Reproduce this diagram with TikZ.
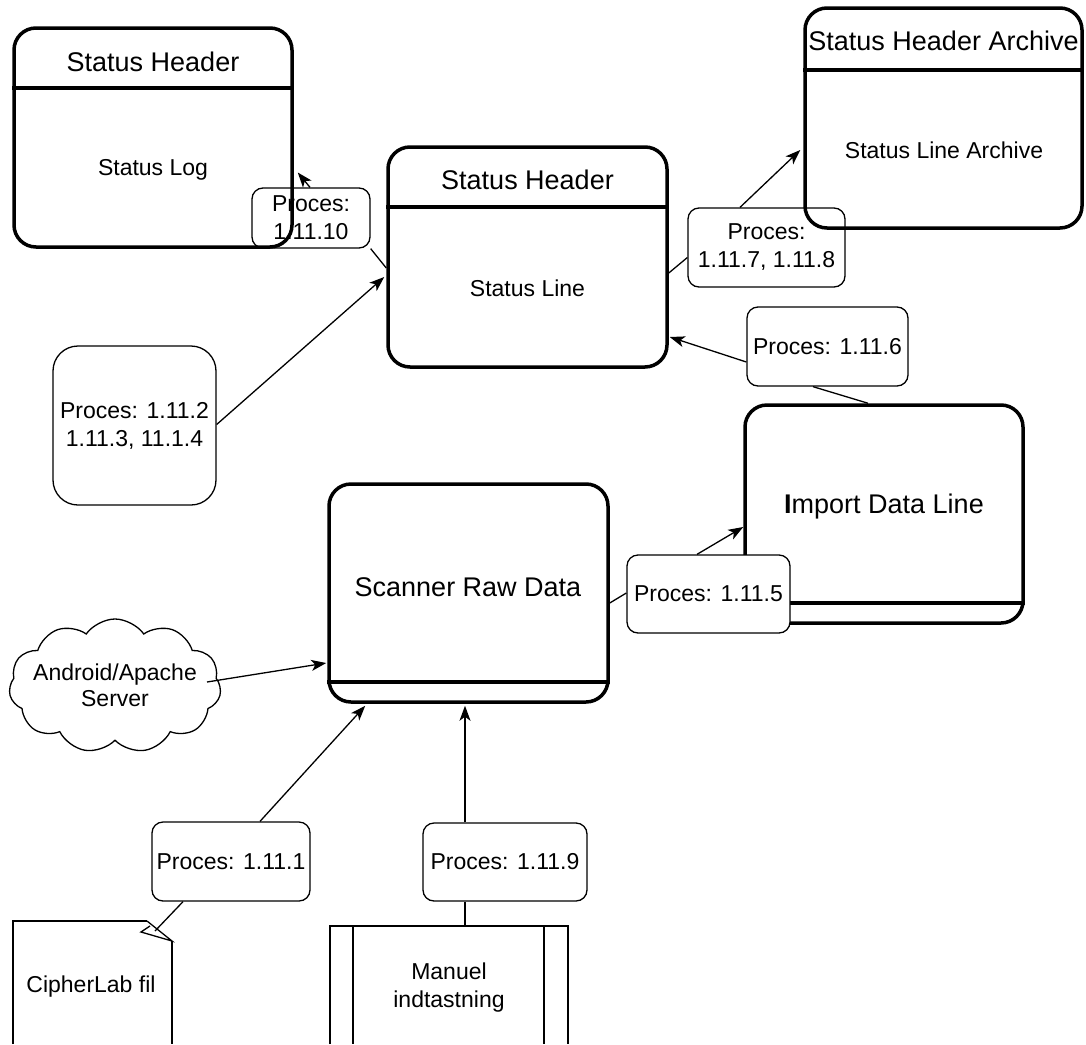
\documentclass[tikz,border=0pt]{standalone}
\usepackage{fontspec}
\setmainfont{Liberation Sans}
\usetikzlibrary{arrows.meta,shapes.symbols,calc}
\tikzset{
  bigbox/.style={draw, line width=3.5pt, rounded corners=22pt, inner sep=0pt},
  divline/.style={line width=3.5pt},
  headtxt/.style={font=\fontsize{27}{31}\selectfont, inner sep=0pt},
  bodytxt/.style={font=\fontsize{23}{28}\selectfont, inner sep=0pt, align=center},
  bigtxt/.style={font=\fontsize{27}{31}\selectfont, inner sep=0pt},
  procbox/.style={draw, line width=1.3pt, rounded corners=11pt, align=center, inner sep=0pt,
    font=\fontsize{23}{28}\selectfont},
  conn/.style={line width=1.3pt},
  arr/.style={line width=1.3pt, -{Stealth[length=15pt,width=11pt,inset=4pt]}},
  thinshape/.style={line width=1.3pt},
  midshape/.style={line width=2pt},
}
\begin{document}
\begin{tikzpicture}[x=1pt,y=-1pt]
\useasboundingbox (0,0) rectangle (1086,1044);

% ---- Status Log box
\node[bigbox, minimum width=278pt, minimum height=219pt] (logbox) at (153,137.5) {};
\draw[divline] (logbox.west |- 0,88) -- (logbox.east |- 0,88);
\node[headtxt] (loghead) at (153,62) {Status Header};
\node[bodytxt] (logbody) at (153,170) {Status Log};

% ---- Status Line box
\node[bigbox, minimum width=279pt, minimum height=220pt] (slbox) at (527.5,257) {};
\draw[divline] (slbox.west |- 0,207) -- (slbox.east |- 0,207);
\node[headtxt] (slhead) at (527.5,180) {Status Header};
\node[bodytxt] (slbody) at (527.5,288) {Status Line};

% ---- Archive box
\node[bigbox, minimum width=277pt, minimum height=220pt] (arbox) at (943.5,118) {};
\draw[divline] (arbox.west |- 0,70) -- (arbox.east |- 0,70);
\node[headtxt] (arhead) at (943.5,41) {Status Header Archive};
\node[bodytxt] (arbody) at (944,150) {Status Line Archive};

% ---- Scanner Raw Data
\node[bigbox, minimum width=279pt, minimum height=218pt] (scbox) at (468.5,593) {};
\draw[divline] (scbox.west |- 0,682) -- (scbox.east |- 0,682);
\node[bigtxt] (sctxt) at (468,587) {Scanner Raw Data};

% ---- Import Data Line
\node[bigbox, minimum width=278pt, minimum height=218pt] (imbox) at (884,514) {};
\draw[divline] (imbox.west |- 0,603) -- (imbox.east |- 0,603);
\node[bigtxt] (imtxt) at (884,507) {\textbf{I}mport Data Line};

% ---- Cloud
\node[cloud, draw, line width=1.3pt, cloud puffs=11, cloud puff arc=110, aspect=1.55,
      minimum width=212pt, minimum height=134pt, inner sep=0pt] (cloud) at (115,686) {};
\node[bodytxt, font=\fontsize{23}{26}\selectfont] (cloudtxt) at (115,685) {Android/Apache\\Server};

% ---- CipherLab fil (document)
\coordinate (cltl) at (13,921);
\draw[thinshape] (13,1044) -- (cltl) -- (147,921);
\draw[thinshape] (172,941) -- (172,1044);
\draw[thinshape, line join=miter] (147,921) -- (172,941) -- (141,932) -- (150,926);
\node[bodytxt] (cltxt) at (91,987) {CipherLab fil};

% ---- Manuel indtastning
\coordinate (mntl) at (330,926);
\draw[midshape] (330,1044) -- (mntl) -- (568,926) -- (568,1044);
\draw[midshape] (353,926) -- (353,1044);
\draw[midshape] (544,926) -- (544,1044);
\node[bodytxt] (mntxt) at (449,988) {Manuel\\indtastning};

% ---- Process boxes
\node[procbox, minimum width=118pt, minimum height=60pt] (p10) at (311,218) {Proces:\\1.11.10};
\node[procbox, minimum width=157pt, minimum height=79pt] (p78) at (766.5,247.5) {Proces:\\1.11.7, 1.11.8};
\node[procbox, rounded corners=25pt, minimum width=163pt, minimum height=159pt] (p234) at (134.5,425.5) {Proces: 1.11.2\\1.11.3, 11.1.4};
\node[procbox, minimum width=161pt, minimum height=79pt] (p6) at (827.5,346.5) {Proces: 1.11.6};
\node[procbox, fill=white, minimum width=163pt, minimum height=78pt] (p5) at (708.5,594) {Proces: 1.11.5};
\node[procbox, minimum width=158pt, minimum height=79pt] (p1) at (231,861.5) {Proces: 1.11.1};
\node[procbox, minimum width=164pt, minimum height=78pt] (p9) at (505,862) {Proces: 1.11.9};

% ---- Connectors
\draw[conn] ($(slbox.west)+(0,11)$) -- (p10.south east);
\draw[arr] ($(p10.north)+(-1,0)$) -- ($(logbox.east)+(4,35)$);

\draw[arr] ($(p234.east)+(0,-1)$) -- ($(slbox.west)+(-2,20)$);

\draw[conn] ($(slbox.east)+(0,16)$) -- ($(p78.west)+(0,10)$);
\draw[arr] ($(p78.north)+(-26.5,0)$) -- ($(arbox.west)+(-3,32)$);

\draw[conn] ($(imbox.north)+(-16,0)$) -- ($(p6.south)+(-14.5,0)$);
\draw[arr] ($(p6.west)+(0,15.5)$) -- ($(slbox.east)+(1,80)$);

\draw[conn] ($(scbox.east)+(0,10)$) -- ($(p5.west)+(0,-1)$);
\draw[arr] ($(p5.north)+(-11.5,0)$) -- ($(imbox.west)+(0,13)$);

\draw[arr] ($(cloud.center)+(92,-4)$) -- ($(scbox.west)+(-1,70)$);

\draw[arr] ($(p1.north)+(29,0)$) -- ($(scbox.south west)+(38,2)$);
\draw[conn] ($(p1.south)+(-48,0)$) -- (155,931);

\draw[arr] ($(p9.north)+(-40,0)$) -- ($(scbox.south)+(-3.5,2)$);
\draw[conn] ($(p9.south)+(-40,0)$) -- ($(mntl)+(135,0)$);
\end{tikzpicture}
\end{document}
